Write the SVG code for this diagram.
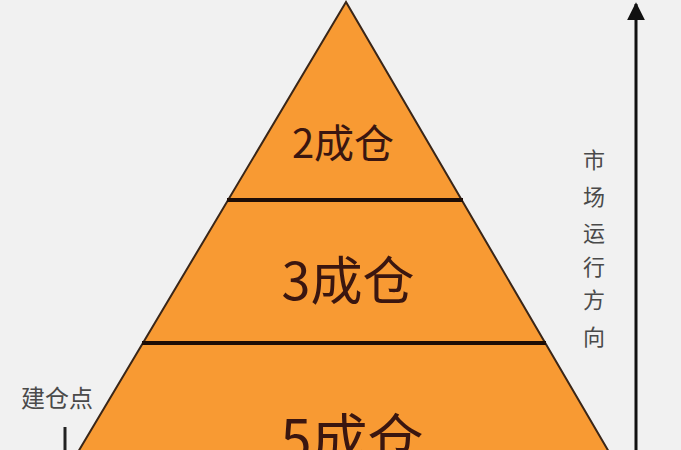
<svg xmlns="http://www.w3.org/2000/svg" width="681" height="450" viewBox="0 0 681 450">
<defs>
<style>
.lbl{font-family:"Noto Sans CJK SC","Noto Sans",sans-serif;fill:#3a1610;text-anchor:middle}
.side{font-family:"Noto Sans CJK SC","Noto Sans",sans-serif;fill:#4a4a4a;text-anchor:middle}
.div{stroke:#1e0d06;stroke-width:4}
</style>
<marker id="ah" viewBox="0 0 10 10" refX="9" refY="5" markerWidth="6" markerHeight="6" orient="auto" markerUnits="strokeWidth">
<path d="M0,0 L10,5 L0,10 z" fill="#111"/>
</marker>
</defs>
<rect width="681" height="450" fill="#f1f1f1"/>
<g id="pyramid">
<polygon points="346,2 78,452 609,452" fill="#F89A33" stroke="#3a2618" stroke-width="2"/>
</g>
<g id="connectors">
<line class="div" x1="227" y1="200" x2="463" y2="200"/>
<line class="div" x1="142" y1="343" x2="546" y2="343"/>
<line x1="636" y1="452" x2="636" y2="4" stroke="#111" stroke-width="3" marker-end="url(#ah)"/>
<line x1="65" y1="427" x2="65" y2="452" stroke="#222" stroke-width="3"/>
</g>
<g id="tier2"><text class="lbl" x="343" y="158" font-size="40">2成仓</text></g>
<g id="tier3"><text class="lbl" x="348" y="300" font-size="52">3成仓</text></g>
<g id="tier5"><text class="lbl" x="352" y="460" font-size="56">5成仓</text></g>
<g id="entry"><text class="side" x="57" y="407" font-size="24">建仓点</text></g>
<g id="direction">
<text class="side" x="594" y="168" font-size="22">市</text>
<text class="side" x="594" y="205" font-size="22">场</text>
<text class="side" x="594" y="241" font-size="22">运</text>
<text class="side" x="594" y="275" font-size="22">行</text>
<text class="side" x="594" y="308" font-size="22">方</text>
<text class="side" x="594" y="345" font-size="22">向</text>
</g>
</svg>
